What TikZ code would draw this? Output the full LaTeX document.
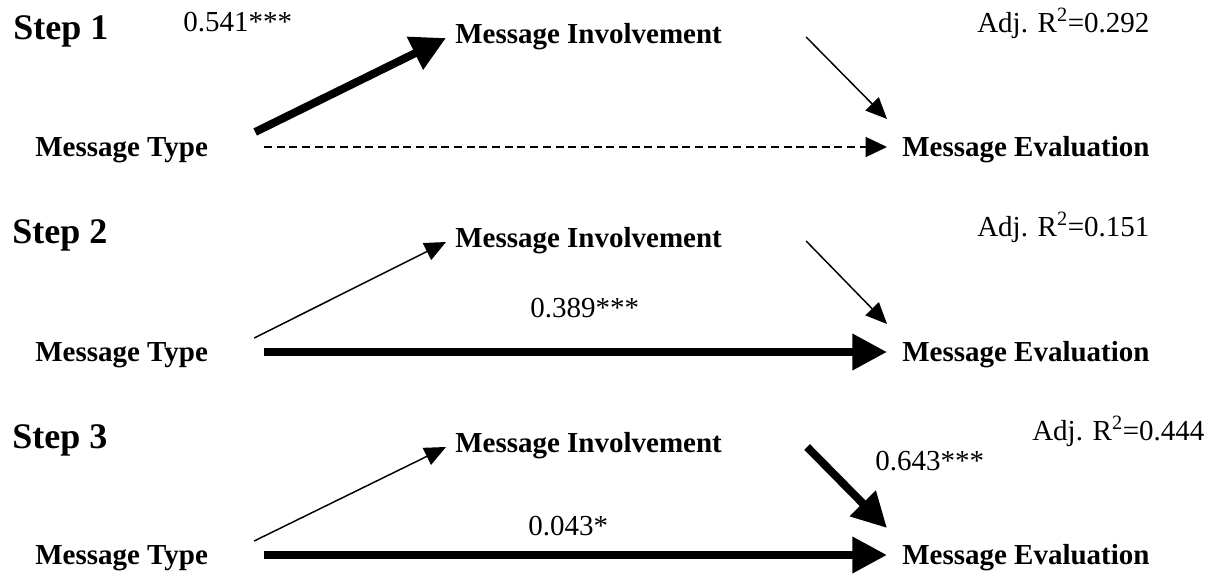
\documentclass[tikz,border=0pt]{standalone}
\usepackage{fontspec}
\setmainfont{Liberation Serif}
\usetikzlibrary{calc}
\usetikzlibrary{arrows.meta}
\tikzset{
  var/.style={anchor=base west, inner sep=0pt, font=\fontsize{21.75}{24}\selectfont\bfseries},
  stepname/.style={anchor=base west, inner sep=0pt, font=\fontsize{27}{30}\selectfont\bfseries},
  coef/.style={anchor=base west, inner sep=0pt, font=\fontsize{21.75}{24}\selectfont},
  thinarr/.style={line width=1.1pt, -{Triangle[length=16pt,width=14pt]}},
  thickarr/.style={line width=6pt, -{Triangle[length=26pt,width=26pt]}},
  dasharr/.style={line width=1.1pt, dash pattern=on 6pt off 3.5pt, -{Triangle[length=16pt,width=15pt]}}
}

\begin{document}
\begin{tikzpicture}[x=0.75pt,y=-0.75pt]
\useasboundingbox (0,0) rectangle (1210,575);

% Step 1
\node[stepname] (step1) at (13,39) {Step 1};
\node[coef] (b1) at (183,31) {0.541***};
\node[var] (inv1) at (455,43) {Message Involvement};
\node[coef] (adj1) at (977,32) {Adj. R\textsuperscript{2}=0.292};
\node[var] (type1) at (35,156) {Message Type};
\node[var] (eval1) at (902,156) {Message Evaluation};

\draw[thickarr] ($(type1.base east)+(47,-24)$) -- ($(inv1.base west)+(-9,-5)$);
\draw[thinarr] ($(inv1.base east)+(84,-6)$) -- ($(eval1.base west)+(-15,-37)$);
\draw[dasharr] ($(type1.base east)+(56,-9)$) -- ($(eval1.base west)+(-15,-9)$);

% Step 2
\node[stepname] (step2) at (12,243) {Step 2};
\node[var] (inv2) at (455,247) {Message Involvement};
\node[coef] (adj2) at (977,236) {Adj. R\textsuperscript{2}=0.151};
\node[coef] (b2) at (530,317) {0.389***};
\node[var] (type2) at (35,361) {Message Type};
\node[var] (eval2) at (902,361) {Message Evaluation};

\draw[thinarr] ($(type2.base east)+(46,-23)$) -- ($(inv2.base west)+(-9,-5)$);
\draw[thinarr] ($(inv2.base east)+(84,-6)$) -- ($(eval2.base west)+(-15,-37)$);
\draw[thickarr] ($(type2.base east)+(56,-9)$) -- ($(eval2.base west)+(-15,-9)$);

% Step 3
\node[stepname] (step3) at (12,448) {Step 3};
\node[var] (inv3) at (455,452) {Message Involvement};
\node[coef] (adj3) at (1032,440) {Adj. R\textsuperscript{2}=0.444};
\node[coef] (b3) at (875,470) {0.643***};
\node[coef] (c3) at (528,535) {0.043*};
\node[var] (type3) at (35,564) {Message Type};
\node[var] (eval3) at (902,564) {Message Evaluation};

\draw[thinarr] ($(type3.base east)+(46,-23)$) -- ($(inv3.base west)+(-9,-5)$);
\draw[thickarr] ($(inv3.base east)+(85,-5)$) -- ($(eval3.base west)+(-15,-36)$);
\draw[thickarr] ($(type3.base east)+(56,-9)$) -- ($(eval3.base west)+(-15,-9)$);

\end{tikzpicture}
\end{document}
